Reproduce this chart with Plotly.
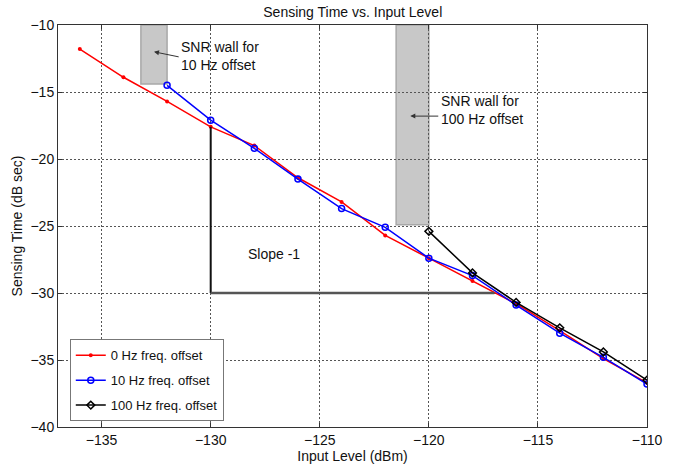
import plotly.graph_objects as go

# ---- data ----
x_red = [-136, -134, -132, -130, -128, -126, -124, -122, -120, -118, -116, -114, -112, -110]
y_red = [-11.8, -13.9, -15.7, -17.6, -19.0, -21.4, -23.2, -25.7, -27.4, -29.1, -30.8, -32.8, -34.9, -36.7]

x_blue = [-132, -130, -128, -126, -124, -122, -120, -118, -116, -114, -112, -110]
y_blue = [-14.5, -17.1, -19.2, -21.5, -23.7, -25.1, -27.4, -28.7, -30.9, -33.0, -34.8, -36.8]

x_black = [-120, -118, -116, -114, -112, -110]
y_black = [-25.4, -28.5, -30.7, -32.6, -34.4, -36.5]

series_names = ["0 Hz freq. offset", "10 Hz freq. offset", "100 Hz freq. offset"]

x_ticks = [-135, -130, -125, -120, -115, -110]
y_ticks = [-40, -35, -30, -25, -20, -15, -10]

# SNR walls: [x0, x1, y_bottom, y_top]
wall_10 = [-133.2, -132.0, -14.4, -10.0]
wall_100 = [-121.5, -120.0, -24.9, -10.0]

# slope triangle: vertical at x=-130 from red point to -30, horizontal to -117
slope_x = [-130, -117]
slope_y = [-17.6, -30]

font_family = "Liberation Sans, Arial, sans-serif"
txt = "#111111"

fig = go.Figure()

# SNR wall rectangles
for w in (wall_10, wall_100):
    fig.add_shape(type="rect", x0=w[0], x1=w[1], y0=w[2], y1=w[3],
                  xref="x", yref="y", fillcolor="#c8c8c8",
                  line=dict(color="#a8a8a8", width=1.5), layer="below")

# slope lines
fig.add_shape(type="line", x0=slope_x[0], x1=slope_x[0], y0=slope_y[0], y1=slope_y[1],
              xref="x", yref="y", line=dict(color="#111111", width=2))
fig.add_shape(type="line", x0=slope_x[0], x1=slope_x[1], y0=slope_y[1], y1=slope_y[1],
              xref="x", yref="y", line=dict(color="#555555", width=2.5))

fig.add_trace(go.Scatter(x=x_red, y=y_red, mode="lines+markers", name=series_names[0],
                         legendgroup="a",
                         line=dict(color="#ff0000", width=1.5),
                         marker=dict(symbol="circle", size=4, color="#ff0000")))
fig.add_trace(go.Scatter(x=x_blue, y=y_blue, mode="lines+markers", name=series_names[1],
                         legendgroup="b",
                         line=dict(color="#0000ff", width=1.5),
                         marker=dict(symbol="circle-open", size=6, color="#0000ff",
                                     line=dict(width=1.5))))
fig.add_trace(go.Scatter(x=x_black, y=y_black, mode="lines+markers", name=series_names[2],
                         legendgroup="c",
                         line=dict(color="#000000", width=1.5),
                         marker=dict(symbol="diamond-open", size=6, color="#000000",
                                     line=dict(width=1.5))))

# annotations
fig.add_annotation(x=-132.6, y=-12.0, ax=-131.4, ay=-12.4, axref="x", ayref="y",
                   xref="x", yref="y", text="", showarrow=True, arrowhead=2,
                   arrowsize=1, arrowwidth=1, arrowcolor="#333333")
fig.add_annotation(x=-131.45, y=-12.35, xref="x", yref="y", xanchor="left",
                   text="SNR wall for<br>10 Hz offset", showarrow=False, align="left",
                   font=dict(size=14, color=txt, family=font_family))
fig.add_annotation(x=-120.85, y=-16.8, ax=-119.5, ay=-16.8, axref="x", ayref="y",
                   xref="x", yref="y", text="", showarrow=True, arrowhead=2,
                   arrowsize=1, arrowwidth=1, arrowcolor="#333333")
fig.add_annotation(x=-119.55, y=-16.35, xref="x", yref="y", xanchor="left",
                   text="SNR wall for<br>100 Hz offset", showarrow=False, align="left",
                   font=dict(size=14, color=txt, family=font_family))
fig.add_annotation(x=-127.1, y=-27.1, xref="x", yref="y", text="Slope -1",
                   showarrow=False, font=dict(size=14, color=txt, family=font_family))

axis_common = dict(showgrid=True, gridcolor="#555555", griddash="2px,2px", gridwidth=1,
                   showline=True, linecolor="#333333", linewidth=1, mirror="ticks",
                   ticks="inside", ticklen=4, tickcolor="#333333", zeroline=False,
                   tickfont=dict(size=14, color=txt, family=font_family))

fig.update_layout(
    width=685, height=472,
    margin=dict(l=58, r=38, t=25, b=41),
    paper_bgcolor="white", plot_bgcolor="white",
    title=dict(text="Sensing Time vs. Input Level", x=0.515, xanchor="center",
               y=0.985, yanchor="top",
               font=dict(size=14, color=txt, family=font_family)),
    font=dict(family=font_family, size=14, color=txt),
    xaxis=dict(range=[-137, -110], tickvals=x_ticks,
               title=dict(text="Input Level (dBm)", standoff=2,
                          font=dict(size=14, family=font_family)),
               **axis_common),
    yaxis=dict(range=[-40, -10], tickvals=y_ticks,
               title=dict(text="Sensing Time (dB sec)", standoff=4,
                          font=dict(size=14, family=font_family)),
               **axis_common),
    legend=dict(x=0.02, y=0.014, xanchor="left", yanchor="bottom",
                bgcolor="white", bordercolor="#777777", borderwidth=1,
                font=dict(size=13, family=font_family, color=txt),
                tracegroupgap=5, itemwidth=30),
    showlegend=True,
)

fig.write_html("out.html")
